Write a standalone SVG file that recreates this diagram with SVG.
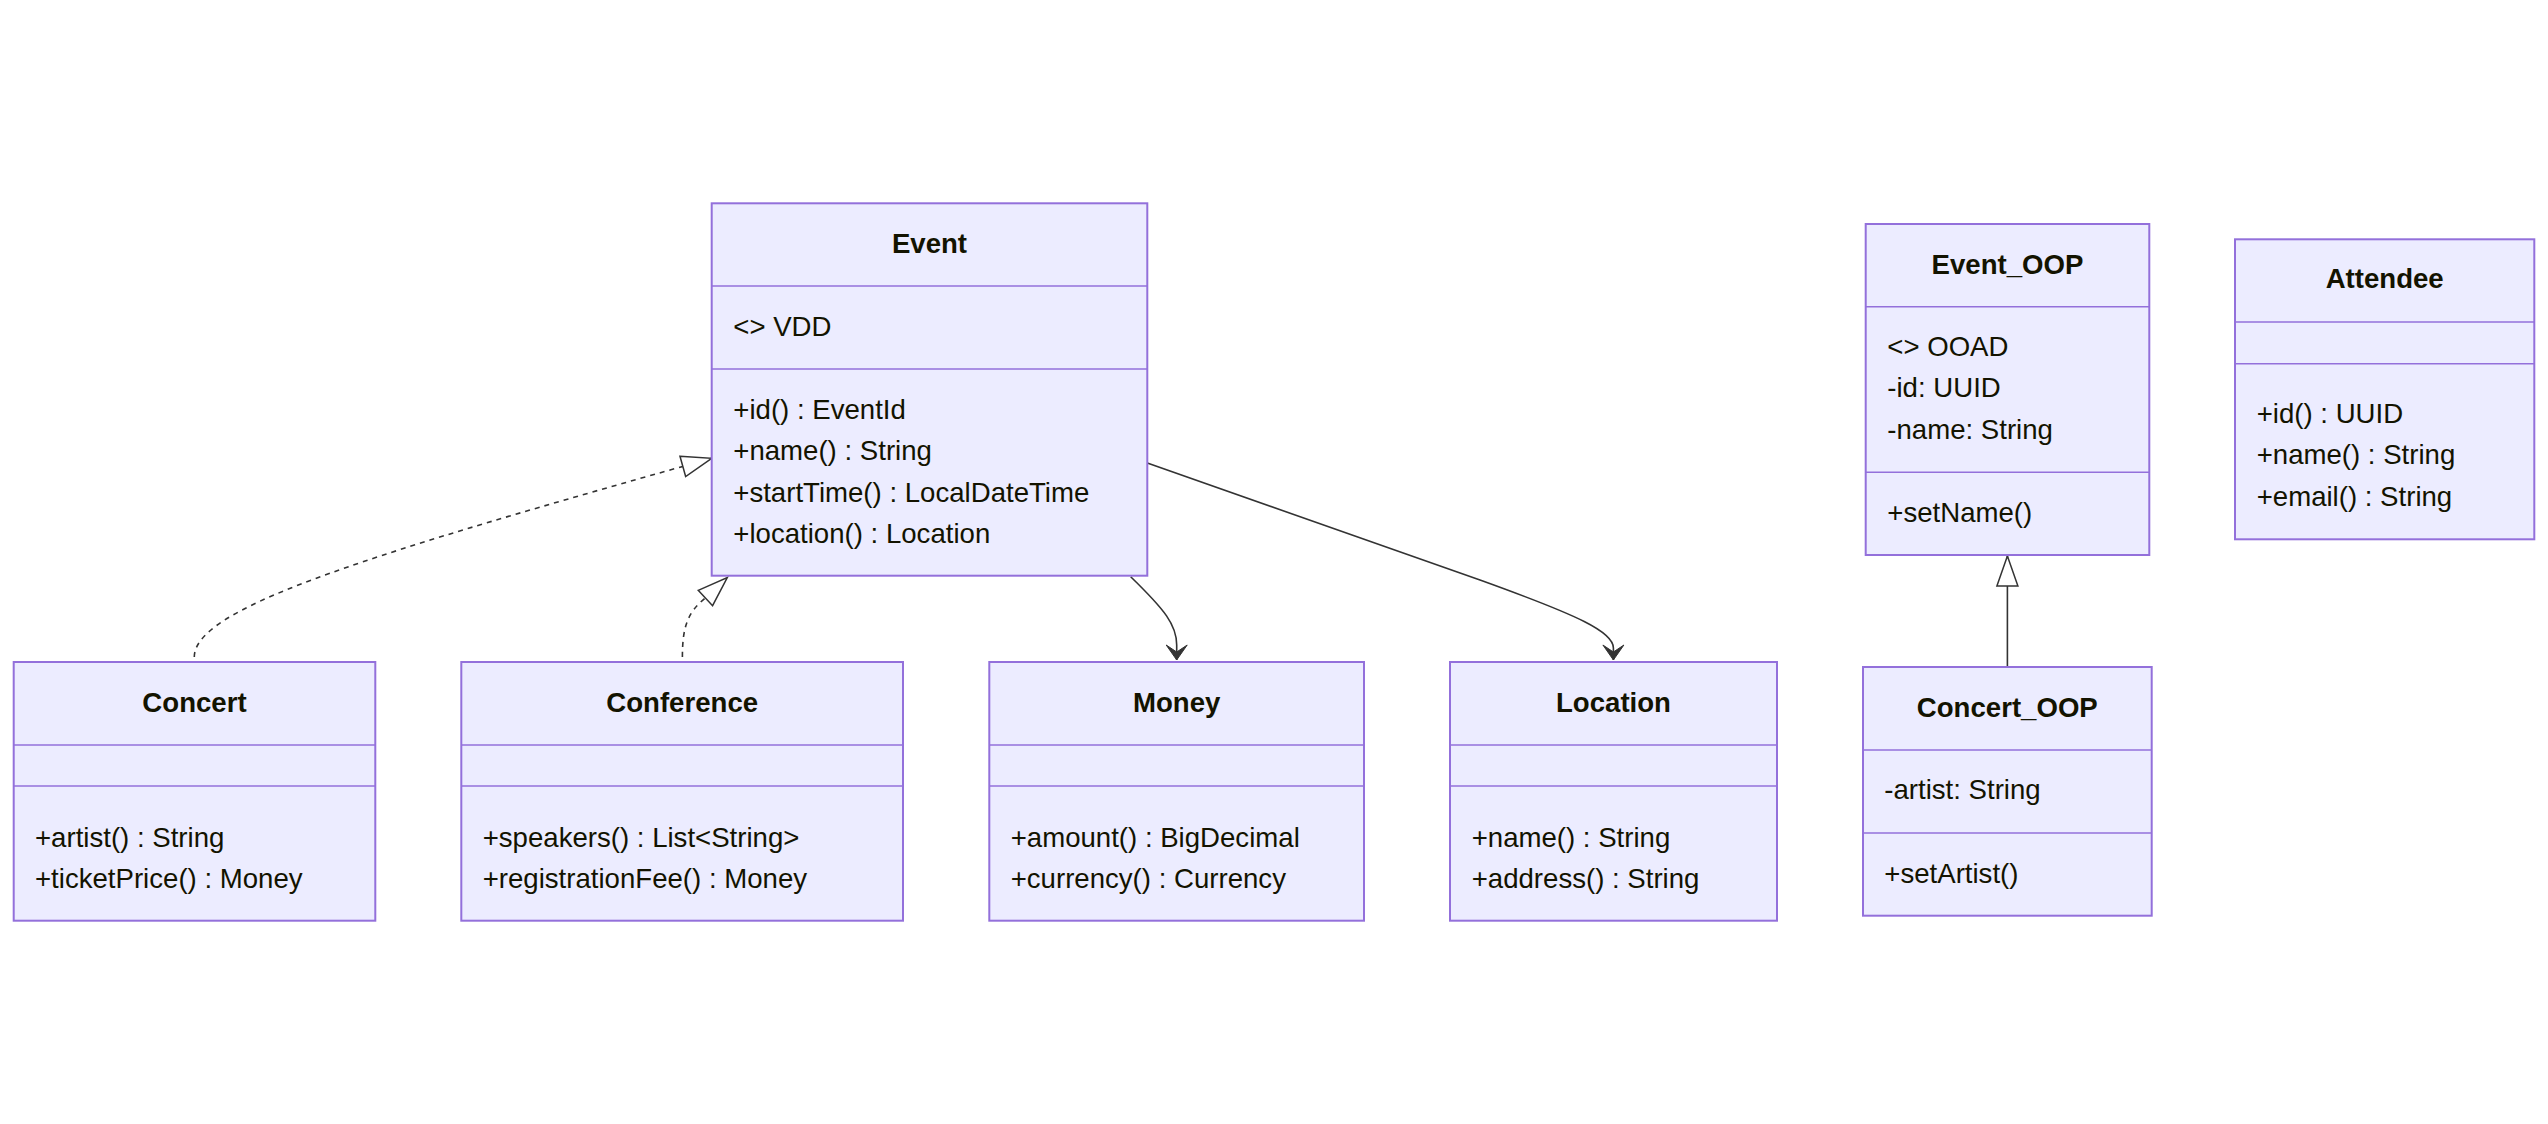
<svg xmlns="http://www.w3.org/2000/svg" width="2548" height="1124" viewBox="0 0 2548 1124">
<style>
.box{fill:#ECECFF;stroke:#9370DB;stroke-width:2}
.div{stroke:#9370DB;stroke-width:1.6}
.t{font-family:"Liberation Sans",Arial,sans-serif;font-size:27.6px;fill:#131300}
.title{font-weight:bold;text-anchor:middle}
.edge{fill:none;stroke:#333333;stroke-width:1.6}
.dash{stroke-dasharray:5 5}
</style>
<defs>
<marker id="ext" markerUnits="userSpaceOnUse" markerWidth="34" markerHeight="26" refX="30" refY="11" orient="auto" overflow="visible">
<path d="M0,0.5 L30,11 L0,21.5 Z" fill="#ffffff" stroke="#333333" stroke-width="1.5"/>
</marker>
<marker id="arr" markerUnits="userSpaceOnUse" markerWidth="18" markerHeight="24" refX="15" refY="10.5" orient="auto" overflow="visible">
<path d="M0,0 L15,10.5 L0,21 L7,10.5 Z" fill="#333333" stroke="#333333" stroke-width="1"/>
</marker>
</defs>
<rect width="2548" height="1124" fill="#ffffff"/>

<g id="connectors">
<path class="edge dash" d="M194.3,657 C194.3,610 350,560 682.8,466.4 L711.7,458.3" marker-end="url(#ext)"/>
<path class="edge dash" d="M682.4,657 C682.4,626 688,612 705.4,598 L727.3,577.5" marker-end="url(#ext)"/>
<path class="edge" d="M1130.7,576.7 C1165,610 1176.7,625 1176.7,645 L1176.7,660" marker-end="url(#arr)"/>
<path class="edge" d="M1147.3,463 L1480,580 C1580,616 1613.4,632 1613.4,648 L1613.4,660" marker-end="url(#arr)"/>
<path class="edge" d="M2007.4,667 L2007.4,556" marker-end="url(#ext)"/>
</g>

<g id="Event">
<rect class="box" x="711.7" y="203.3" width="435.6" height="372.4"/>
<line class="div" x1="711.7" y1="286" x2="1147.3" y2="286"/>
<line class="div" x1="711.7" y1="369" x2="1147.3" y2="369"/>
<text class="t title" x="929.5" y="253">Event</text>
<text class="t" x="733.3" y="335.7">&lt;&gt; VDD</text>
<text class="t" x="733.3" y="419">+id() : EventId</text>
<text class="t" x="733.3" y="460.3">+name() : String</text>
<text class="t" x="733.3" y="501.6">+startTime() : LocalDateTime</text>
<text class="t" x="733.3" y="542.9">+location() : Location</text>
</g>

<g id="Concert">
<rect class="box" x="13.7" y="662" width="361.6" height="258.7"/>
<line class="div" x1="13.7" y1="745" x2="375.3" y2="745"/>
<line class="div" x1="13.7" y1="786" x2="375.3" y2="786"/>
<text class="t title" x="194.5" y="711.7">Concert</text>
<text class="t" x="35" y="846.7">+artist() : String</text>
<text class="t" x="35" y="887.9">+ticketPrice() : Money</text>
</g>

<g id="Conference">
<rect class="box" x="461.3" y="662" width="441.7" height="258.7"/>
<line class="div" x1="461.3" y1="745" x2="903" y2="745"/>
<line class="div" x1="461.3" y1="786" x2="903" y2="786"/>
<text class="t title" x="682.2" y="711.7">Conference</text>
<text class="t" x="482.7" y="846.7">+speakers() : List&lt;String&gt;</text>
<text class="t" x="482.7" y="887.9">+registrationFee() : Money</text>
</g>

<g id="Money">
<rect class="box" x="989.3" y="662" width="374.7" height="258.7"/>
<line class="div" x1="989.3" y1="745" x2="1364" y2="745"/>
<line class="div" x1="989.3" y1="786" x2="1364" y2="786"/>
<text class="t title" x="1176.7" y="711.7">Money</text>
<text class="t" x="1010.7" y="846.7">+amount() : BigDecimal</text>
<text class="t" x="1010.7" y="887.9">+currency() : Currency</text>
</g>

<g id="Location">
<rect class="box" x="1450" y="662" width="327" height="258.7"/>
<line class="div" x1="1450" y1="745" x2="1777" y2="745"/>
<line class="div" x1="1450" y1="786" x2="1777" y2="786"/>
<text class="t title" x="1613.5" y="711.7">Location</text>
<text class="t" x="1471.7" y="846.7">+name() : String</text>
<text class="t" x="1471.7" y="887.9">+address() : String</text>
</g>

<g id="Event_OOP">
<rect class="box" x="1865.7" y="224" width="283.6" height="331"/>
<line class="div" x1="1865.7" y1="306.7" x2="2149.3" y2="306.7"/>
<line class="div" x1="1865.7" y1="472.3" x2="2149.3" y2="472.3"/>
<text class="t title" x="2007.5" y="274">Event_OOP</text>
<text class="t" x="1887.3" y="356">&lt;&gt; OOAD</text>
<text class="t" x="1887.3" y="397.3">-id: UUID</text>
<text class="t" x="1887.3" y="438.6">-name: String</text>
<text class="t" x="1887.3" y="521.7">+setName()</text>
</g>

<g id="Concert_OOP">
<rect class="box" x="1863" y="667" width="288.7" height="248.7"/>
<line class="div" x1="1863" y1="750" x2="2151.7" y2="750"/>
<line class="div" x1="1863" y1="833" x2="2151.7" y2="833"/>
<text class="t title" x="2007.3" y="716.7">Concert_OOP</text>
<text class="t" x="1884.3" y="799.3">-artist: String</text>
<text class="t" x="1884.3" y="882.7">+setArtist()</text>
</g>

<g id="Attendee">
<rect class="box" x="2235" y="239.3" width="299.3" height="300"/>
<line class="div" x1="2235" y1="322" x2="2534.3" y2="322"/>
<line class="div" x1="2235" y1="363.7" x2="2534.3" y2="363.7"/>
<text class="t title" x="2384.7" y="288.3">Attendee</text>
<text class="t" x="2256.7" y="422.7">+id() : UUID</text>
<text class="t" x="2256.7" y="464.3">+name() : String</text>
<text class="t" x="2256.7" y="506">+email() : String</text>
</g>
</svg>
